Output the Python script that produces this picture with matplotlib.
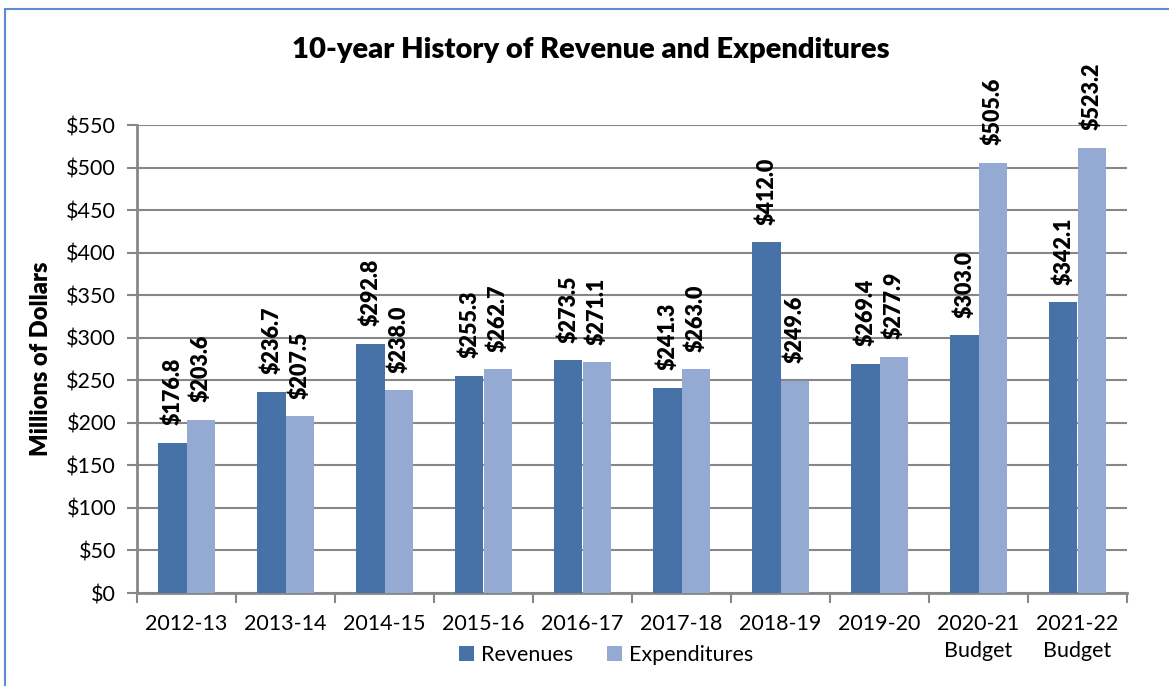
import numpy as np
import matplotlib
matplotlib.use("Agg")
import matplotlib.pyplot as plt
from matplotlib.patches import Rectangle
from matplotlib.ticker import FuncFormatter, MultipleLocator

# === Data ===
years = ["2012-13", "2013-14", "2014-15", "2015-16", "2016-17",
         "2017-18", "2018-19", "2019-20", "2020-21\nBudget", "2021-22\nBudget"]
revenues = [176.8, 236.7, 292.8, 255.3, 273.5, 241.3, 412.0, 269.4, 303.0, 342.1]
expenditures = [203.6, 207.5, 238.0, 262.7, 271.1, 263.0, 249.6, 277.9, 505.6, 523.2]

plt.rcParams['font.family'] = ['Lato', 'DejaVu Sans']
dark = '#4672A8'
light = '#95AAD3'
grey = '#878787'

fig = plt.figure(figsize=(11.69, 6.86), dpi=100)
ax = fig.add_axes([137/1169, 1 - 593/686, (1127 - 137)/1169, (593 - 125)/686])

x = np.arange(len(years))
w = 0.283
ax.bar(x - w/2, revenues, w, color=dark, label="Revenues", zorder=3)
ax.bar(x + w/2, expenditures, w, color=light, label="Expenditures", zorder=3)

# value labels above each bar
for xs, vals in [(x - w/2, revenues), (x + w/2, expenditures)]:
    for xi, v in zip(xs, vals):
        ax.annotate(f"\\${v:.1f}", (xi, v), xytext=(0, 12.5), textcoords='offset points',
                    rotation=90, ha='center', va='bottom',
                    fontsize=15.5, fontweight='heavy', zorder=4)

ax.set_xlim(-0.5, len(years) - 0.5)
ax.set_ylim(0, 550)
ax.yaxis.set_major_locator(MultipleLocator(50))
ax.yaxis.set_major_formatter(FuncFormatter(lambda v, p: f"\\${v:.0f}"))
ax.grid(axis='y', color=grey, linewidth=1.5, zorder=0)

ax.set_xticks(x)
ax.set_xticklabels(years, fontsize=15.5, linespacing=1.45)
ax.set_xticks(np.arange(len(years) + 1) - 0.5, minor=True)
ax.tick_params(axis='x', which='major', length=0, pad=15)
ax.tick_params(axis='x', which='minor', length=7, width=1.5, color=grey, direction='out')
ax.tick_params(axis='y', length=7, width=1.5, color=grey, labelsize=15.5, pad=8)

for s in ['top', 'right']:
    ax.spines[s].set_visible(False)
for s in ['left', 'bottom']:
    ax.spines[s].set_color(grey)
    ax.spines[s].set_linewidth(2)

ax.set_ylabel("Millions of Dollars", fontsize=17, fontweight='heavy', labelpad=10)
fig.text(591/1169, 1 - 50/686, "10-year History of Revenue and Expenditures",
         ha='center', va='center', fontsize=21, fontweight='heavy')

ax.legend(loc='center', bbox_to_anchor=(0.474, -0.133), ncol=2, frameon=False,
          fontsize=15.5, handlelength=0.7, handleheight=0.7, handletextpad=0.3,
          columnspacing=1.6)

# blue outer frame
fig.patches.append(Rectangle((5/1169, -0.05), 1.1, 1 - 9/686 + 0.05, transform=fig.transFigure,
                             fill=False, edgecolor='#5B8BD0', linewidth=1.5, clip_on=False))

fig.savefig("out.png", dpi=100)
